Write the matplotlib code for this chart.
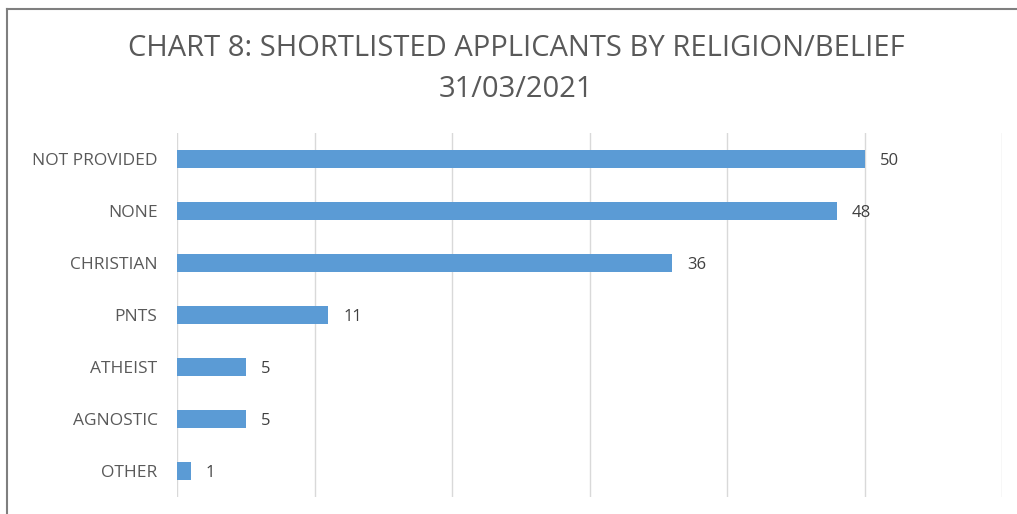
import matplotlib.pyplot as plt
from matplotlib.lines import Line2D

categories = ['NOT PROVIDED', 'NONE', 'CHRISTIAN', 'PNTS', 'ATHEIST', 'AGNOSTIC', 'OTHER']
values = [50, 48, 36, 11, 5, 5, 1]

plt.rcParams['font.family'] = ['Open Sans', 'DejaVu Sans']

W, H = 1017, 514
fig = plt.figure(figsize=(W / 100, H / 100), dpi=100)
ax = fig.add_axes([177 / W, 1 - 497 / H, (1002 - 177) / W, (497 - 133) / H])

ypos = list(range(len(categories)))
ax.barh(ypos, values, height=0.35, color='#5B9BD5', zorder=3)
for y, v in zip(ypos, values):
    ax.text(v + 1.1, y + 0.03, str(v), va='center', ha='left', fontsize=12, color='#404040')

ax.set_xlim(0, 60)
ax.set_ylim(len(categories) - 0.5, -0.5)
ax.set_xticks(range(0, 61, 10))
ax.set_xticklabels([])
ax.tick_params(axis='x', length=0)
ax.set_yticks(ypos)
ax.set_yticklabels(categories, fontsize=12.5, color='#595959')
ax.tick_params(axis='y', length=0, pad=14)
ax.grid(axis='x', color='#D9D9D9', linewidth=1, zorder=0)
for s in ax.spines.values():
    s.set_visible(False)

fig.text(516 / W, 1 - 69 / H, 'CHART 8: SHORTLISTED APPLICANTS BY RELIGION/BELIEF\n31/03/2021',
         ha='center', va='center', fontsize=21, color='#595959', linespacing=1.55)

# chart frame (cropped on the right and bottom)
fig.add_artist(Line2D([7 / W, 7 / W], [0, 1 - 9 / H], color='#7F7F7F', linewidth=1.5, transform=fig.transFigure))
fig.add_artist(Line2D([7 / W, 1], [1 - 9 / H, 1 - 9 / H], color='#7F7F7F', linewidth=1.5, transform=fig.transFigure))

fig.savefig('out.png', dpi=100)
